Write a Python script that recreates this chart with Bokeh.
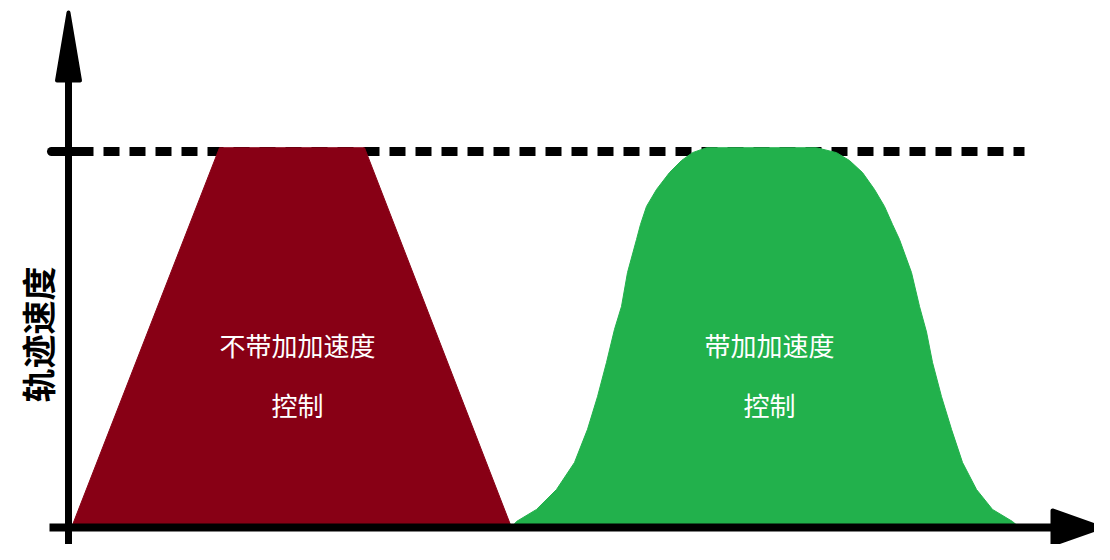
import math
from bokeh.plotting import figure
from bokeh.models import Range1d
from bokeh.core.properties import value
from bokeh.embed import file_html
from bokeh.resources import INLINE

# ---- data (time, speed) ----
trap_t = [0.03, 1.51, 2.96, 4.43]
trap_v = [0.0, 1.01, 1.01, 0.0]

scurve_t = [4.43, 4.48, 4.68, 4.88, 5.06, 5.19, 5.29, 5.38, 5.46, 5.53, 5.59,
            5.68, 5.72, 5.78, 5.88, 6.01, 6.13, 6.24, 6.38,
            7.48, 7.68, 7.81, 7.94, 8.06, 8.16, 8.24,
            8.31, 8.43, 8.51, 8.58, 8.64, 8.73, 8.83, 8.94, 9.08, 9.24, 9.44, 9.51]
scurve_v = [0.0, 0.016, 0.048, 0.101, 0.173, 0.261, 0.348, 0.439, 0.527, 0.588,
            0.678, 0.766, 0.806, 0.854, 0.899, 0.944, 0.976, 0.997, 1.01,
            1.01, 0.997, 0.976, 0.944, 0.899, 0.854, 0.806,
            0.766, 0.678, 0.588, 0.52, 0.439, 0.348, 0.261, 0.173, 0.101, 0.048,
            0.016, 0.0]

v_max = 1.0
dash_end = 9.56
y_label = "轨迹速度"
label_trap = ["不带加加速度", "控制"]
label_s = ["带加加速度", "控制"]
label_trap_x = 2.29
label_s_x = 7.01
label_rows_y = [0.487, 0.327]

RED = "#880015"
GREEN = "#22B14C"
FONT = "Noto Sans CJK SC"

W, H = 1094, 544
x0 = -0.68
x1 = x0 + W / 100.0
y1 = 527.0 / 376.0
y0 = y1 - H / 376.0

p = figure(width=W, height=H, output_backend="svg", toolbar_location=None,
           x_range=Range1d(x0, x1), y_range=Range1d(y0, y1),
           min_border=0, outline_line_color=None)
p.axis.visible = False
p.grid.visible = False
p.background_fill_color = "white"
p.border_fill_color = "white"

# dashed max-speed line and tick
p.line([-0.17, dash_end], [v_max, v_max], line_width=9, line_color="black",
       line_dash="16 10")
p.line([-0.17, 0.19], [v_max, v_max], line_width=9, line_color="black",
       line_cap="round")

# shapes
p.patch(trap_t, trap_v, fill_color=RED, line_color=RED, line_width=1)
p.patch(scurve_t, scurve_v, fill_color=GREEN, line_color=GREEN, line_width=1)

# axes
px_x = (x1 - x0) / W
px_y = (y1 - y0) / H
p.line([0, 0], [y0 - 0.01, y1 - 75 * px_y], line_width=7, line_color="black")
p.line([-0.19, x1 - 40 * px_x], [0, 0], line_width=8, line_color="black")
# y arrow
ytip = y1 - 12 * px_y
ybase = y1 - 80 * px_y
p.patch([-11.5 * px_x, 0, 11.5 * px_x], [ybase, ytip, ybase],
        fill_color="black", line_color="black", line_width=4, line_join="round")
# x arrow
xbase = x1 - 42 * px_x
xtip = x1 + 6 * px_x
p.patch([xbase, xtip, xbase], [17 * px_y, 0, -17 * px_y],
        fill_color="black", line_color="black", line_width=4, line_join="round")

# labels
p.text(x=[-0.31], y=[0.513], text=[y_label], angle=math.pi / 2,
       text_font=value(FONT), text_font_style="bold", text_font_size="34px",
       text_align="center", text_baseline="middle", text_color="black")
p.text(x=[label_trap_x] * 2, y=label_rows_y, text=label_trap,
       text_font=value(FONT), text_font_size="26px",
       text_align="center", text_baseline="middle", text_color="white")
p.text(x=[label_s_x] * 2, y=label_rows_y, text=label_s,
       text_font=value(FONT), text_font_size="26px",
       text_align="center", text_baseline="middle", text_color="white")

open("out.html", "w").write(file_html(p, INLINE))
